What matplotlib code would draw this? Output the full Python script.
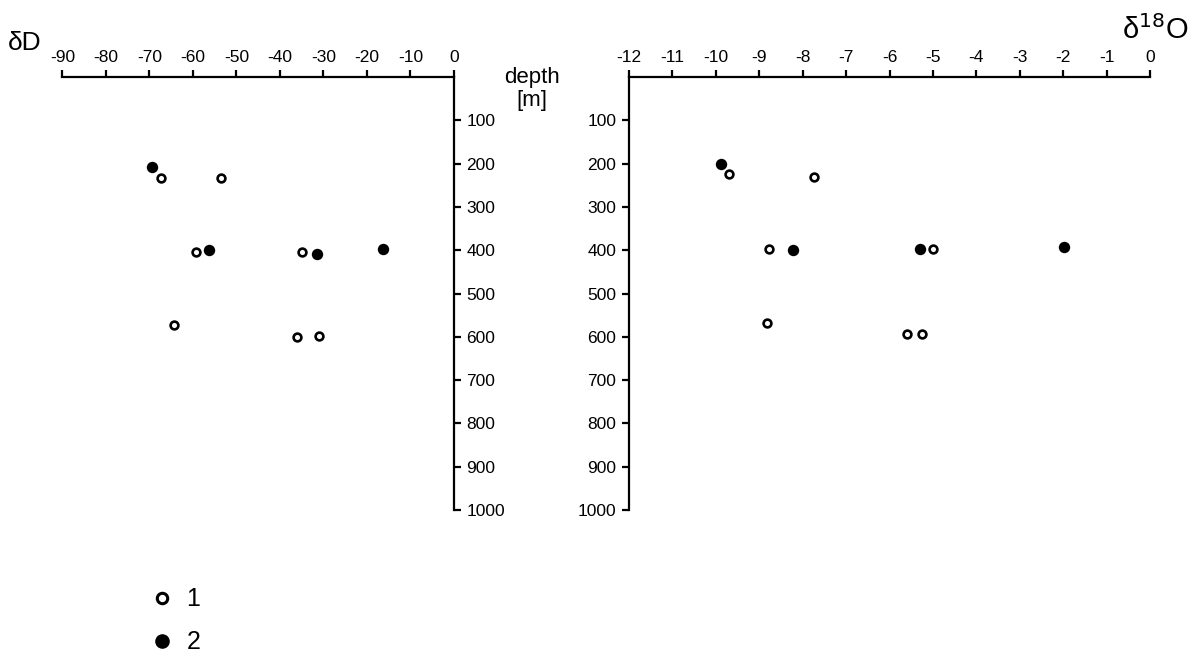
import numpy as np
import matplotlib
matplotlib.use('Agg')
import matplotlib.pyplot as plt
from matplotlib.lines import Line2D

plt.rcParams['font.family'] = ['Liberation Sans', 'DejaVu Sans']

# delta D panel, group 1 (open) and group 2 (filled)
dD_1 = [-67.4, -53.6, -59.2, -34.9, -64.4, -36.1, -31.0]
depth_D_1 = [234, 233, 405, 405, 573, 600, 597]
dD_2 = [-69.5, -56.3, -31.6, -16.3]
depth_D_2 = [207, 400, 408, 397]

# delta 18O panel
d18O_1 = [-9.69, -7.75, -8.77, -4.99, -8.82, -5.59, -5.26]
depth_O_1 = [224, 231, 397, 397, 567, 594, 594]
d18O_2 = [-9.89, -8.23, -5.29, -1.99]
depth_O_2 = [200, 400, 397, 392]

dD_ticks = list(range(-90, 1, 10))
d18O_ticks = list(range(-12, 1, 1))
depth_ticks = list(range(100, 1001, 100))

W, H = 1193, 653
fig = plt.figure(figsize=(W / 100, H / 100), dpi=100)


def px_axes(x0, x1, y0, y1):
    # axes from pixel box (top-left origin)
    return fig.add_axes([x0 / W, 1 - y1 / H, (x1 - x0) / W, (y1 - y0) / H])


lw = 1.6
tick_fs = 12.5
open_kw = dict(ls='none', marker='o', ms=5.6, mfc='white', mec='black', mew=1.9, clip_on=False)
fill_kw = dict(ls='none', marker='o', ms=8.2, mfc='black', mec='black', mew=0, clip_on=False)

# left panel: delta D
ax1 = px_axes(62.4, 454, 77, 510)
ax1.set_xlim(-90, 0)
ax1.set_ylim(1000, 0)
ax1.plot(dD_1, depth_D_1, **open_kw)
ax1.plot(dD_2, depth_D_2, **fill_kw)
for s in ['left', 'bottom']:
    ax1.spines[s].set_visible(False)
for s in ['top', 'right']:
    ax1.spines[s].set_linewidth(lw)
ax1.xaxis.tick_top()
ax1.yaxis.tick_right()
ax1.set_xticks(dD_ticks)
ax1.set_xticklabels([str(t) for t in dD_ticks])
ax1.set_yticks(depth_ticks)
ax1.tick_params(axis='both', direction='out', length=5, width=lw, labelsize=tick_fs, pad=4)
ax1.patch.set_visible(False)

# right panel: delta 18O
ax2 = px_axes(629, 1150, 77, 510)
ax2.set_xlim(-12, 0)
ax2.set_ylim(1000, 0)
ax2.plot(d18O_1, depth_O_1, **open_kw)
ax2.plot(d18O_2, depth_O_2, **fill_kw)
for s in ['right', 'bottom']:
    ax2.spines[s].set_visible(False)
for s in ['top', 'left']:
    ax2.spines[s].set_linewidth(lw)
ax2.xaxis.tick_top()
ax2.set_xticks(d18O_ticks)
ax2.set_xticklabels([str(t) for t in d18O_ticks])
ax2.set_yticks(depth_ticks)
ax2.tick_params(axis='both', direction='out', length=5, width=lw, labelsize=tick_fs, pad=4)
ax2.patch.set_visible(False)

# axis titles
fig.text(8 / W, 1 - 43 / H, 'δD', fontsize=19, va='center', ha='left')
fig.text(1122 / W, 1 - 30 / H, 'δ$^{18}$O', fontsize=21, va='center', ha='left')
fig.text(532 / W, 1 - 89 / H, 'depth\n[m]', fontsize=16, va='center', ha='center',
         linespacing=1.1)

# legend
handles = [Line2D([], [], ls='none', marker='o', ms=7.5, mfc='white', mec='black', mew=2.2),
           Line2D([], [], ls='none', marker='o', ms=10.5, mfc='black', mec='black', mew=0)]
fig.legend(handles, ['1', '2'], loc='upper left', bbox_to_anchor=(139 / W, 1 - 575 / H),
           frameon=False, fontsize=18, handlelength=0.8, handletextpad=0.6,
           labelspacing=0.75, borderpad=0)

fig.savefig('out.png', dpi=100)
